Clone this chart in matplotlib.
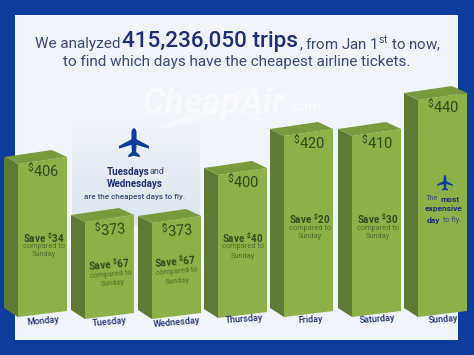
import matplotlib
matplotlib.use('Agg')
import matplotlib.pyplot as plt
from matplotlib.patches import Polygon, Rectangle
import numpy as np

days = ['Monday', 'Tuesday', 'Wednesday', 'Thursday', 'Friday', 'Saturday', 'Sunday']
prices = [406, 373, 373, 400, 420, 410, 440]
savings = [34, 67, 67, 40, 20, 30, None]
# front face heights, they do not follow the price exactly
drawn_heights = [153, 97, 96, 143, 181, 181, 217]

# layout, in pixels of the picture
lefts = [4, 71, 138, 204, 270, 338, 404]
bases = [317, 319, 319, 318, 317, 317, 317]
label_rot = [5, 5, 5, 4, 3, 4, 4]
save_rot = [0, 5, 5, 0, 0, 0, 0]
save_xy = [(44, 237), (109, 264), (175, 261), (243, 237), (310, 218), (378, 218)]
comp_xy = [(44, 247), (111, 275), (177, 272), (243, 247), (310, 228), (378, 228)]
sun_xy = [(44, 255), (112, 283), (177, 281), (243, 256), (310, 237), (378, 237)]
label_xy = [(43, 321), (110, 322), (177, 322), (244, 319), (310, 320), (377, 319), (443, 319)]

BLUE = '#0c3c9c'
PANEL = '#f1f4fa'
FRONT = '#8cb148'
SIDE = '#5f7a34'
TOP = '#7a9a3e'
DARK = '#2f4a1c'
MID = '#4d7029'
NAVY = '#1c2f78'
SLATE = '#3a4a78'

plt.rcParams['font.family'] = 'Roboto'
plt.rcParams['mathtext.fontset'] = 'custom'
plt.rcParams['mathtext.rm'] = 'Roboto'
plt.rcParams['mathtext.bf'] = 'Roboto:bold'
plt.rcParams['mathtext.default'] = 'rm'


def plane(ax, cx, cy, s):
    # top view of an airliner, unit coordinates
    pts = np.array([(0, -1), (.1, -.93), (.17, -.75), (.17, -.25), (1, .2), (1, .38), (.17, .12),
                    (.14, .6), (.38, .8), (.38, .95), (0, .85), (-.38, .95), (-.38, .8), (-.14, .6),
                    (-.17, .12), (-1, .38), (-1, .2), (-.17, -.25), (-.17, -.75), (-.1, -.93)])
    ax.add_patch(Polygon(pts * s + [cx, cy], closed=True, fc=BLUE, ec='none', zorder=4))


def draw_bar(ax, x, base, h):
    fl, fr = x + 14, x + 63
    top = base - h
    rise = 7
    ax.add_patch(Polygon([(x, top - rise), (fl, top), (fl, base), (x, base - 9)], fc=SIDE, ec='none', zorder=3))
    ax.add_patch(Polygon([(fl, top), (fr, top - rise), (fr, base - 6), (fl, base)], fc=FRONT, ec='none', zorder=3))
    ax.add_patch(Polygon([(x, top - rise), (fr - 15, top - 14), (fr, top - rise), (fl, top)], fc=TOP, ec='none', zorder=3))


fig = plt.figure(figsize=(4.74, 3.55), dpi=100, facecolor=BLUE)
ax = fig.add_axes([0, 0, 1, 1])
ax.axis('off')

ax.add_patch(Rectangle((15.5, 15), 442.5, 325, fc=PANEL, ec='none', zorder=1))

# soft band behind the two cheapest days
band_rgba = np.ones((64, 1, 4))
band_rgba[:, :, 0] = 0.87
band_rgba[:, :, 1] = 0.90
band_rgba[:, :, 2] = 0.94
band_rgba[:, 0, 3] = np.linspace(0, 1, 64)
ax.imshow(band_rgba, extent=(72, 200, 225, 115), aspect='auto', zorder=1.5)
ax.set_xlim(0, 474)
ax.set_ylim(355, 0)

# watermark, with the wing swoosh behind the lettering
ax.add_patch(Polygon([(155, 127), (195, 112), (235, 92), (262, 84), (240, 100), (205, 118), (170, 128)],
                     fc='white', ec='none', alpha=.35, zorder=2))
ax.add_patch(Polygon([(238, 109), (252, 112), (268, 123), (250, 118)], fc='white', ec='none', alpha=.35, zorder=2))
ax.text(143, 104, 'CheapAir', fontsize=25.5, style='italic', weight='bold',
        family=['Liberation Sans Narrow', 'Roboto'], color='white', alpha=.55, va='center', zorder=2)
ax.text(288, 107, '.com', fontsize=10.5, weight='bold', color='white', alpha=.55, va='center', zorder=2)

# heading
ax.text(35, 44, 'We analyzed', fontsize=11, color=SLATE, va='center', zorder=5)
ax.text(122, 42, '415,236,050 trips', fontsize=16.2, weight='medium', color=NAVY, va='center', zorder=5)
ax.text(299, 44, r', from Jan 1$^{st}$ to now,', fontsize=10.8, color=SLATE, va='center', zorder=5)
ax.text(237, 62, 'to find which days have the cheapest airline tickets.', fontsize=11, color=SLATE, ha='center', va='center', zorder=5)

for i, day in enumerate(days):
    x, base, h = lefts[i], bases[i], drawn_heights[i]
    draw_bar(ax, x, base, h)
    ax.text(x + 39, base - h + 7, r'$^{\$}$%d' % prices[i], fontsize=10.5, color=DARK, ha='center', va='center', rotation=save_rot[i], zorder=5)
    ax.text(*label_xy[i], day, fontsize=6.5, weight='medium', color=NAVY, ha='center', va='center', rotation=label_rot[i], zorder=5)
    if savings[i] is not None:
        ax.text(*save_xy[i], r'$\mathbf{Save\ ^{\$}%d}$' % savings[i], fontsize=7, color=DARK, ha='center', va='center', rotation=save_rot[i], zorder=5)
        ax.text(*comp_xy[i], 'compared to', fontsize=5.3, color=MID, ha='center', va='center', rotation=save_rot[i], zorder=5)
        ax.text(*sun_xy[i], 'Sunday', fontsize=5.3, color=MID, ha='center', va='center', rotation=save_rot[i], zorder=5)

# cheapest days note
plane(ax, 134, 143, 15)
ax.text(107, 172, 'Tuesdays', fontsize=7, weight='bold', color=NAVY, va='center', zorder=5)
ax.text(150, 172, 'and', fontsize=6.5, color=SLATE, va='center', zorder=5)
ax.text(135, 184, 'Wednesdays', fontsize=7, weight='bold', color=NAVY, ha='center', va='center', zorder=5)
ax.text(135, 197, 'are the cheapest days to fly.', fontsize=5.8, weight='medium', color=SLATE, ha='center', va='center', zorder=5)

# sunday note
plane(ax, 445, 183, 8)
ax.text(438, 199, 'The', fontsize=5.2, color=SLATE, ha='right', va='center', zorder=5)
ax.text(441, 199, 'most', fontsize=6, weight='bold', color=NAVY, va='center', zorder=5)
ax.text(444, 209, 'expensive', fontsize=6, weight='bold', color=NAVY, ha='center', va='center', zorder=5)
ax.text(434, 220, 'day', fontsize=6, weight='bold', color=NAVY, ha='center', va='center', zorder=5)
ax.text(443, 220, 'to fly.', fontsize=5.2, color=SLATE, va='center', zorder=5)

fig.savefig('out.png', dpi=100, facecolor=BLUE)
